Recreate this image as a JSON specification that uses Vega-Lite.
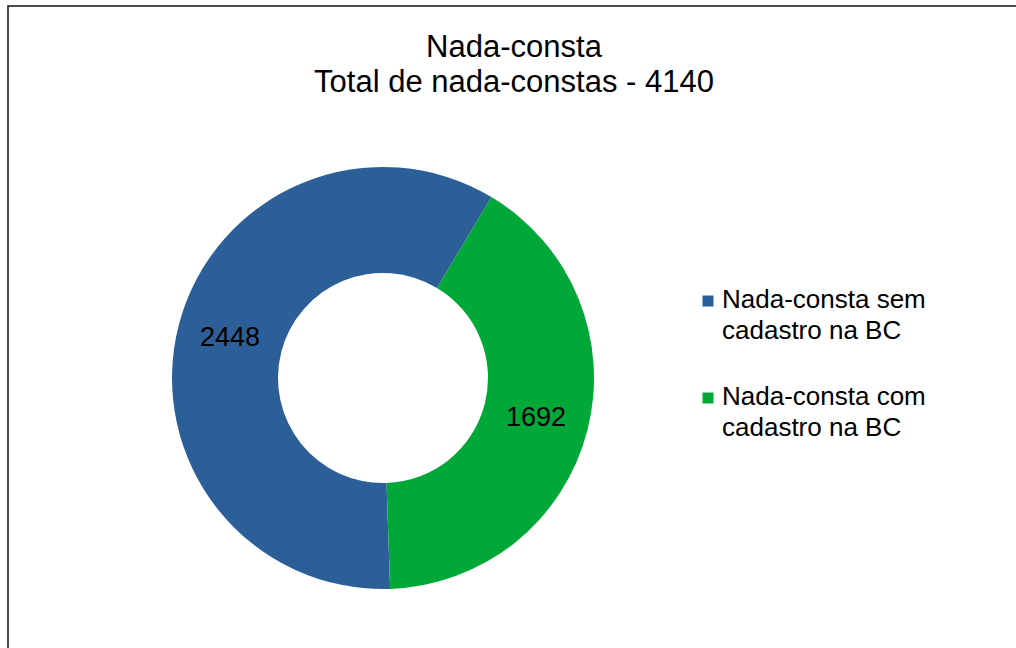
{
  "$schema": "https://vega.github.io/schema/vega-lite/v6.json",
  "autosize": {"type": "none"},
  "width": 1012,
  "height": 646,
  "padding": {"left": 8, "top": 6, "right": -4, "bottom": -4},
  "background": "white",
  "view": {"stroke": "#111111", "strokeWidth": 1.5},
  "config": {
    "view": {"stroke": "#111111", "strokeWidth": 1.5},
    "font": "Liberation Sans"
  },
  "title": {
    "text": ["Nada-consta", "Total de nada-constas - 4140"],
    "orient": "top",
    "anchor": "middle",
    "frame": "group",
    "offset": -93,
    "baseline": "top",
    "font": "Liberation Sans",
    "fontSize": 31,
    "fontWeight": "normal",
    "color": "#000000",
    "lineHeight": 35
  },
  "data": {
    "values": [
      {"categoria": "Nada-consta sem cadastro na BC", "valor": 2448, "ordem": 1},
      {"categoria": "Nada-consta com cadastro na BC", "valor": 1692, "ordem": 2}
    ]
  },
  "encoding": {
    "theta": {
      "field": "valor",
      "type": "quantitative",
      "stack": true,
      "scale": {"range": [3.108, 9.391]}
    },
    "order": {"field": "ordem", "type": "quantitative"}
  },
  "layer": [
    {
      "mark": {"type": "arc", "innerRadius": 105, "outerRadius": 211, "xOffset": -131, "yOffset": 49},
      "encoding": {
        "color": {
          "field": "categoria",
          "type": "nominal",
          "scale": {
            "domain": ["Nada-consta sem cadastro na BC", "Nada-consta com cadastro na BC"],
            "range": ["#2C5F97", "#00A838"]
          },
          "legend": {
            "title": null,
            "orient": "none",
            "legendX": 687,
            "legendY": 282,
            "padding": 0,
            "symbolType": "square",
            "symbolSize": 121,
            "symbolStrokeWidth": 0,
            "labelFont": "Liberation Sans",
            "labelFontSize": 26,
            "labelColor": "#000000",
            "labelOffset": 1,
            "labelLimit": 400,
            "labelBaseline": "top",
            "rowPadding": 40,
            "labelExpr": "datum.label == 'Nada-consta sem cadastro na BC' ? ['Nada-consta sem', 'cadastro na BC'] : ['Nada-consta com', 'cadastro na BC']",
            "encode": {
              "labels": {"update": {"lineHeight": {"value": 31}, "dy": {"value": -14}}}
            }
          }
        }
      }
    },
    {
      "mark": {"type": "text", "radius": 158, "xOffset": -131, "yOffset": 49, "font": "Liberation Sans", "fontSize": 27, "color": "#000000"},
      "encoding": {
        "text": {"field": "valor", "type": "quantitative", "format": "d"}
      }
    }
  ]
}
